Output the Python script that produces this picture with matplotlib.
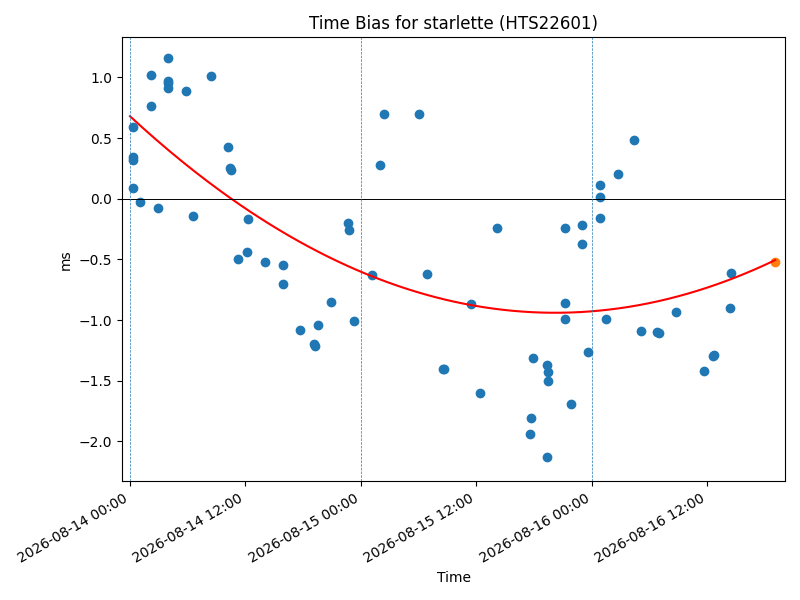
import numpy as np
import matplotlib
matplotlib.use("Agg")
import matplotlib.pyplot as plt
import matplotlib.dates as mdates
from datetime import datetime, timedelta

# Data: hours after 2026-08-14 00:00, bias in ms
START = datetime(2026, 8, 14)
px = [134, 134, 134, 134, 141, 152, 152, 159, 169, 169, 169, 169, 187, 194, 212, 229, 231, 232,
      239, 248, 249, 266, 284, 284, 301, 315, 316, 319, 332, 349, 350, 355, 373, 381, 385, 419,
      427, 443, 444, 471, 480, 497, 530, 531, 533, 547, 548, 548, 547, 565, 565, 565, 571, 582,
      582, 588, 600, 600, 600, 606, 618, 634, 641, 657, 659, 676, 704, 713, 714, 730, 731]
hours = [(p - 131) / 9.6 for p in px]
bias = [0.59, 0.34, 0.32, 0.09, -0.03, 1.02, 0.76, -0.08, 1.16, 0.97, 0.95, 0.91, 0.89, -0.14,
        1.01, 0.43, 0.25, 0.24, -0.5, -0.44, -0.17, -0.52, -0.55, -0.70, -1.08, -1.2, -1.21,
        -1.04, -0.85, -0.2, -0.26, -1.01, -0.63, 0.28, 0.70, 0.70, -0.62, -1.4, -1.4, -0.87,
        -1.6, -0.24, -1.94, -1.81, -1.31, -1.37, -1.43, -1.5, -2.13, -0.24, -0.86, -0.99, -1.69,
        -0.22, -0.37, -1.26, 0.11, 0.01, -0.16, -0.99, 0.2, 0.48, -1.09, -1.1, -1.11, -0.93,
        -1.42, -1.3, -1.29, -0.9, -0.61]

# fitted trend (quadratic)
fit_a, fit_t0, fit_min = 0.000829, 44.2, -0.94
end_hour = (775 - 131) / 9.6
end_value = -0.52

times = [START + timedelta(hours=h) for h in hours]
th = np.linspace(0, end_hour, 200)
fit_times = [START + timedelta(hours=h) for h in th]
fit_vals = fit_a * (th - fit_t0) ** 2 + fit_min

fig, ax = plt.subplots(figsize=(8, 6), dpi=100)
ax.scatter(times, bias)
ax.plot(fit_times, fit_vals, 'r-')
ax.scatter([START + timedelta(hours=end_hour)], [end_value], color='tab:orange')
ax.axhline(0, color='k', linewidth=0.7)
for d in range(3):
    ax.axvline(START + timedelta(days=d), color='tab:blue', linestyle='--', linewidth=0.5)

ax.set_xlim(START - timedelta(hours=0.83), START + timedelta(hours=68.1))
ax.set_ylim(-2.33, 1.33)
ax.xaxis.set_major_locator(mdates.HourLocator(byhour=[0, 12]))
ax.xaxis.set_major_formatter(mdates.DateFormatter('%Y-%m-%d %H:%M'))
ax.set_title('Time Bias for starlette (HTS22601)')
ax.set_xlabel('Time')
ax.set_ylabel('ms')
fig.autofmt_xdate()
fig.tight_layout()
fig.savefig('out.png')
